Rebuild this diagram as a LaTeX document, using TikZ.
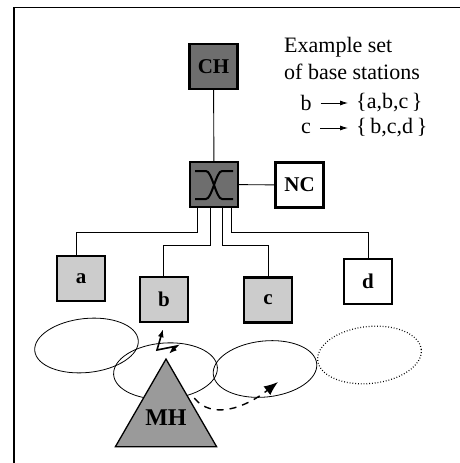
\documentclass[tikz,border=0pt]{standalone}
\usepackage{fontspec}
\setmainfont{Liberation Serif}
\usetikzlibrary{arrows.meta,calc,shapes.geometric}
\definecolor{darkfill}{HTML}{6E6E6E}
\definecolor{lightfill}{HTML}{CCCCCC}
\definecolor{mhfill}{HTML}{9A9A9A}
\begin{document}
\begin{tikzpicture}[x=1pt,y=-1pt,
  station/.style={draw,line width=2.4pt,minimum width=48pt,minimum height=45pt,
    inner sep=0pt,font=\fontsize{21}{24}\selectfont\bfseries},
  wire/.style={line width=0.9pt},
  cell/.style={line width=0.8pt},
  bolt/.style={line width=1.6pt,{Latex[length=8pt,width=6pt]}-{Latex[length=8pt,width=6pt]}},
  move/.style={line width=1.4pt,dash pattern=on 7pt off 6pt,-{Latex[length=14pt,width=11pt]}},
  note/.style={font=\fontsize{22}{26}\selectfont,inner sep=0pt,anchor=west},
  setlbl/.style={font=\fontsize{22}{25}\selectfont,inner sep=0pt},
  maparrow/.style={line width=0.8pt,-{Latex[length=8pt,width=5pt]}},
]
\useasboundingbox (0,0) rectangle (460,463);

% frame
\draw[line width=1.8pt] (14,463) -- (14,7.5) -- (460,7.5);

% stations
\node[station,fill=darkfill] (ch) at (213.5,66.5) {CH};
\node[station,fill=darkfill] (sw) at (214,184.5) {};
\node[station,fill=white]    (nc) at (299.5,185) {NC};
\node[station,fill=lightfill] (a) at (81,278.5) {a};
\node[station,fill=lightfill] (b) at (164,299.5) {b};
\node[station,fill=lightfill] (c) at (268,300) {c};
\node[station,fill=white]     (d) at (368,281.5) {d};

% switch symbol
\begin{scope}[shift={(sw.center)},line width=2pt]
  \draw (-19,-13.5) -- (-8,-13.5) .. controls (-2,-13.5) and (2,14.5) .. (8,14.5) -- (19,14.5);
  \draw (19,-13.5) -- (8,-13.5) .. controls (2,-13.5) and (-2,14.5) .. (-8,14.5) -- (-19,14.5);
\end{scope}

% wiring
\draw[wire] (ch) -- (sw);
\draw[wire] (sw) -- (nc);
\draw[wire] ([xshift=-17pt]sw.south) -- ++(0,24) -| ([xshift=-5pt]a.north);
\draw[wire] ([xshift=-4pt]sw.south) -- ++(0,37) -| ([xshift=-1pt]b.north);
\draw[wire] ([xshift=8pt]sw.south) -- ++(0,37) -| (c.north);
\draw[wire] ([xshift=17pt]sw.south) -- ++(0,24) -| (d.north);

% radio cells
\draw[cell] (86.5,345.5) ellipse [x radius=52pt, y radius=27pt, rotate=6];
\draw[cell] (165.5,371) ellipse [x radius=52pt, y radius=28pt, rotate=4];
\draw[cell] (265,369) ellipse [x radius=52pt, y radius=28pt, rotate=6];
\draw[cell,dotted,line width=1.2pt] (369.5,355) ellipse [x radius=52pt, y radius=28.5pt, rotate=6];

% mobile host
\node[regular polygon,regular polygon sides=3,minimum size=92pt,draw,line width=1.3pt,
  fill=mhfill,inner sep=0pt,font=\fontsize{24}{28}\selectfont\bfseries] (mh) at (166,417.5)
  {\raisebox{-9pt}{MH}};

% radio link and handoff
\draw[bolt] ($(b.south)+(-1,6)$) -- (157,350) -- (177,346) -- ($(mh.corner 1)+(3,-4)$);
\coordinate (handoff) at (278,382);
\draw[move] ($(mh.corner 1)!0.45!(mh.corner 3)+(5,0)$)
  .. controls (212,420) and (245,408) .. (handoff);

% base-station sets
\node[note] (ex1) at (284,47) {Example set};
\node[note] (ex2) at (284,72) {of base stations};
\node[setlbl] (bk) at (306,103) {b};
\node[setlbl,anchor=west] (bset) at (356,103) {\{a,b,c\,\}};
\node[setlbl] (ck) at (306,128) {c};
\node[setlbl,anchor=west] (cset) at (356,128) {\{\,b,c,d\,\}};
\draw[maparrow] ($(bk.east)+(9,0)$) -- ($(bset.west)+(-8,0)$);
\draw[maparrow] ($(ck.east)+(9,0)$) -- ($(cset.west)+(-8,0)$);
\end{tikzpicture}
\end{document}
